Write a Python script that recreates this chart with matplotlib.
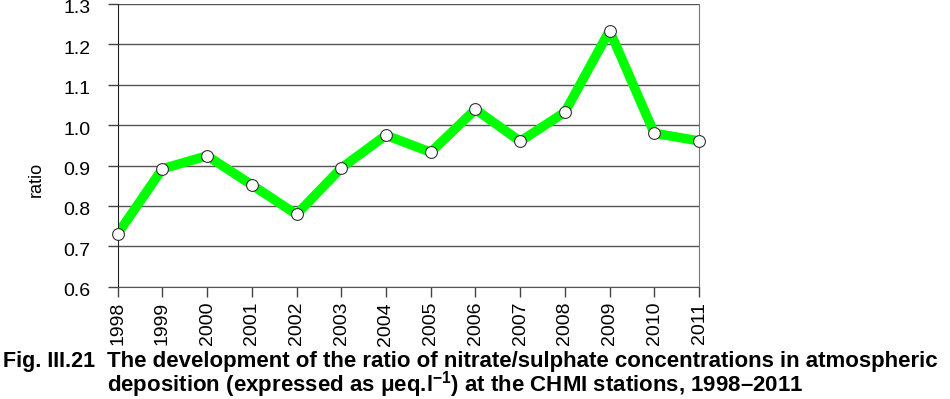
import matplotlib
matplotlib.use("Agg")
import matplotlib.pyplot as plt
from matplotlib.transforms import ScaledTranslation

years = [1998, 1999, 2000, 2001, 2002, 2003, 2004, 2005, 2006, 2007, 2008, 2009, 2010, 2011]
ratio = [0.731, 0.892, 0.924, 0.852, 0.779, 0.894, 0.975, 0.933, 1.039, 0.960, 1.032, 1.234, 0.980, 0.961]
yticks = [0.6, 0.7, 0.8, 0.9, 1.0, 1.1, 1.2, 1.3]
ytick_labels = ["0.6", "0.7", "0.8", "0.9", "1.0", "1.1", "1.2", "1.3"]
ylabel = "ratio"
caption_num = "Fig. III.21"
caption_l1 = "The development of the ratio of nitrate/sulphate concentrations in atmospheric"
caption_l2 = "deposition (expressed as μeq.l$^{\\mathbf{-1}}$) at the CHMI stations, 1998–2011"

plt.rcParams['font.family'] = ['Liberation Sans', 'DejaVu Sans']
plt.rcParams['mathtext.fontset'] = 'custom'
plt.rcParams['mathtext.rm'] = 'Liberation Sans:bold'
plt.rcParams['mathtext.bf'] = 'Liberation Sans:bold'
plt.rcParams['mathtext.default'] = 'bf'

fig = plt.figure(figsize=(9.5, 3.99), dpi=100)
ax = fig.add_axes([0.1239, 0.2815, 0.6119, 0.7085])

for y in yticks:
    ax.axhline(y, color="#555555", lw=1.0, zorder=1)

ax.plot(years, ratio, color="#00ff00", lw=6.8, zorder=2,
        solid_joinstyle="round", solid_capstyle="butt")
ax.plot(years, ratio, linestyle="none", marker="o", ms=8.5, mfc="white",
        mec="#333333", mew=0.8, zorder=3, clip_on=False)

ax.set_xlim(1998, 2011)
ax.set_ylim(0.6, 1.3)
ax.set_xticks(years)
ax.set_xticklabels([str(y) for y in years], rotation=90, fontsize=14)
ax.set_yticks(yticks)
ax.set_yticklabels(ytick_labels, fontsize=14)
ax.tick_params(axis="x", direction="out", length=7, width=1, color="#444444", pad=4)
ax.tick_params(axis="y", direction="out", length=7, width=1, color="#444444", pad=12.5)
off = ScaledTranslation(0, -3 / 100, fig.dpi_scale_trans)
for lab in ax.get_yticklabels():
    lab.set_transform(lab.get_transform() + off)

ax.spines["top"].set_visible(False)
ax.spines["left"].set_color("#222222")
ax.spines["bottom"].set_color("#555555")
ax.spines["right"].set_color("#777777")

fig.text(36 / 950, 1 - 179 / 399, ylabel, fontsize=13, rotation=90, ha="center", va="center")

fig.text(3 / 950, 1 - 367 / 399, caption_num, fontsize=15.5, fontweight="bold", va="baseline", ha="left")
fig.text(107 / 950, 1 - 367 / 399, caption_l1, fontsize=16, fontweight="bold", va="baseline", ha="left")
fig.text(107 / 950, 1 - 392 / 399, caption_l2, fontsize=16, fontweight="bold", va="baseline", ha="left")

fig.savefig("out.png", dpi=100)
